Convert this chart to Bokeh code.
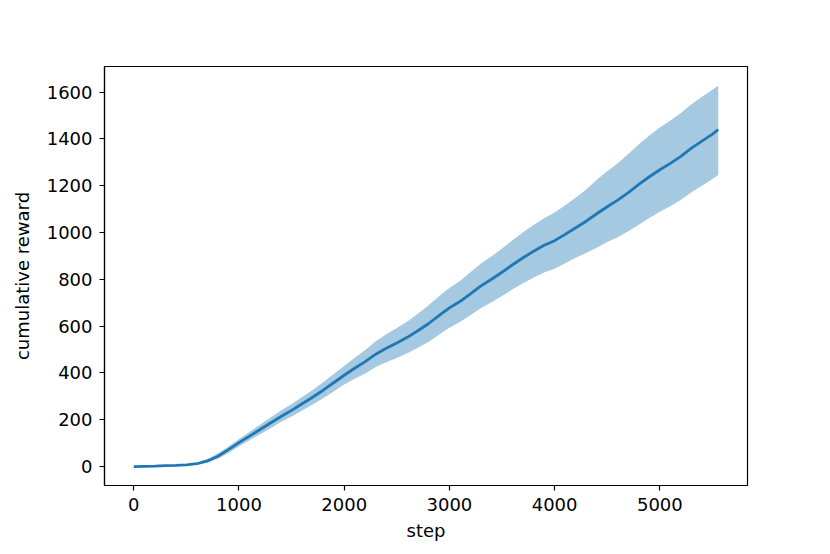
from bokeh.plotting import figure
from bokeh.models import Range1d, FixedTicker, ColumnDataSource
from bokeh.embed import file_html
from bokeh.resources import INLINE

steps = [0, 100, 200, 300, 400, 500, 600, 700, 800, 900,
         1000, 1100, 1200, 1300, 1400, 1500, 1600, 1700, 1800, 1900,
         2000, 2100, 2200, 2300, 2400, 2500, 2600, 2700, 2800, 2900,
         3000, 3100, 3200, 3300, 3400, 3500, 3600, 3700, 3800, 3900,
         4000, 4100, 4200, 4300, 4400, 4500, 4600, 4700, 4800, 4900,
         5000, 5100, 5200, 5300, 5400, 5500, 5555]
mean_reward = [0, 1, 2, 4, 5, 7, 12, 24, 44, 72,
               102, 130, 158, 186, 214, 240, 268, 296, 326, 358,
               390, 420, 448, 480, 505, 528, 552, 580, 610, 645,
               678, 705, 738, 772, 800, 830, 862, 892, 920, 945,
               965, 992, 1020, 1048, 1080, 1110, 1138, 1170, 1205, 1238,
               1268, 1295, 1325, 1360, 1390, 1420, 1440]
lower_reward = [0, 0, 1, 3, 4, 5, 8, 16, 33, 58,
                86, 112, 138, 164, 190, 214, 239, 265, 292, 321,
                350, 375, 398, 425, 445, 464, 484, 507, 532, 563,
                593, 617, 646, 677, 702, 729, 757, 783, 808, 829,
                845, 868, 892, 912, 935, 959, 980, 1005, 1033, 1062,
                1088, 1112, 1140, 1172, 1200, 1228, 1246]
upper_reward = [0, 2, 3, 5, 7, 9, 16, 32, 56, 86,
                118, 148, 179, 209, 239, 267, 297, 327, 360, 395,
                430, 465, 498, 535, 565, 592, 620, 653, 688, 727,
                763, 793, 830, 867, 898, 931, 967, 1001, 1032, 1061,
                1085, 1116, 1148, 1184, 1225, 1261, 1296, 1335, 1377, 1414,
                1448, 1478, 1510, 1548, 1580, 1610, 1627]
x_ticks = [0, 1000, 2000, 3000, 4000, 5000]
y_ticks = [0, 200, 400, 600, 800, 1000, 1200, 1400, 1600]

src = ColumnDataSource(dict(step=steps, mean=mean_reward, lo=lower_reward, hi=upper_reward))

p = figure(width=830, height=554, output_backend="svg", toolbar_location=None,
           x_range=Range1d(-278, 5833), y_range=Range1d(-81, 1709),
           min_border_left=104, min_border_right=83, min_border_top=66, min_border_bottom=69)

p.varea(x="step", y1="lo", y2="hi", source=src, fill_color="#1f77b4", fill_alpha=0.4)
p.line(x="step", y="mean", source=src, line_color="#1f77b4", line_width=2.8)

p.grid.visible = False
p.outline_line_color = "black"
p.outline_line_width = 1.2
p.outline_line_alpha = 1

p.xaxis.ticker = FixedTicker(ticks=x_ticks)
p.yaxis.ticker = FixedTicker(ticks=y_ticks)
for ax in (p.xaxis[0], p.yaxis[0]):
    ax.axis_line_color = "black"
    ax.axis_line_width = 1.2
    ax.major_tick_line_color = "black"
    ax.major_tick_line_width = 1.2
    ax.major_tick_in = 0
    ax.major_tick_out = 5
    ax.minor_tick_line_color = None
    ax.major_label_text_font = "DejaVu Sans"
    ax.major_label_text_font_size = "18px"
    ax.major_label_text_color = "black"
    ax.axis_label_text_font = "DejaVu Sans"
    ax.axis_label_text_font_size = "18px"
    ax.axis_label_text_font_style = "normal"
    ax.axis_label_text_color = "black"
    ax.major_label_standoff = 7

p.xaxis.axis_label = "step"
p.yaxis.axis_label = "cumulative reward"
p.xaxis.axis_label_standoff = 6
p.yaxis.axis_label_standoff = 11
p.background_fill_color = "white"
p.border_fill_color = "white"

open("out.html", "w").write(file_html(p, INLINE))
